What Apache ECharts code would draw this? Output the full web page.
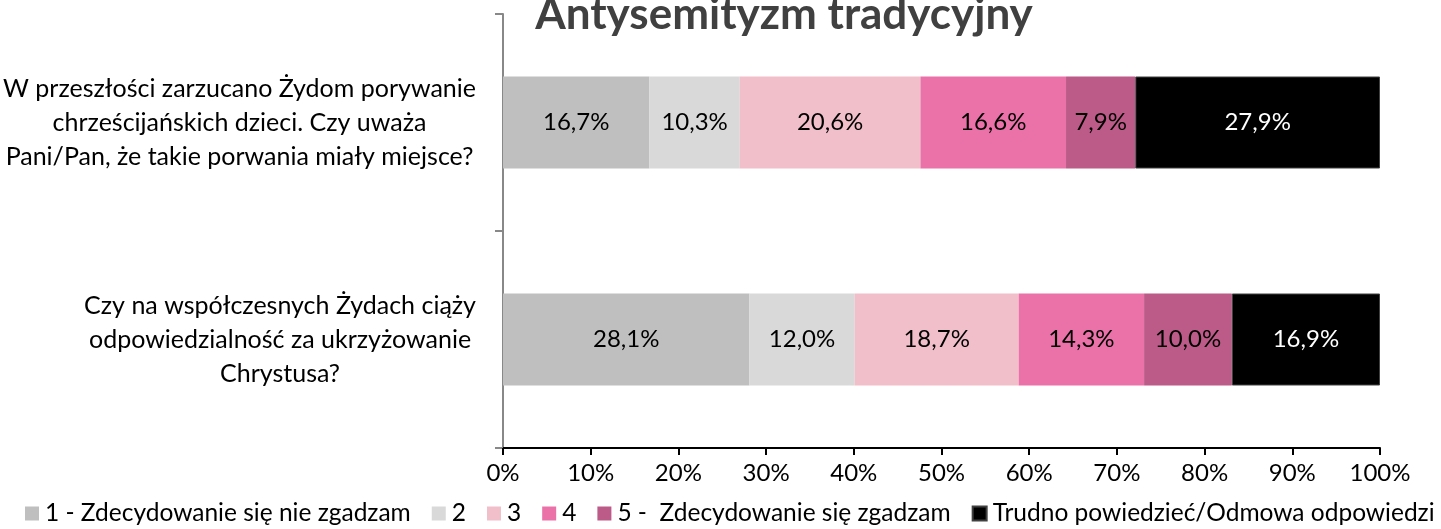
<!DOCTYPE html>
<html>
<head>
<meta charset="utf-8">
<script src="https://cdn.jsdelivr.net/npm/echarts@6/dist/echarts.min.js"></script>
<style>
html,body{margin:0;padding:0;background:#fff;}
#chart{width:1441px;height:529px;}
</style>
</head>
<body>
<div id="chart"></div>
<script>
const titleText = 'Antysemityzm tradycyjny';
const categories = [
  ['W przeszłości zarzucano Żydom porywanie', 'chrześcijańskich dzieci. Czy uważa', 'Pani/Pan, że takie porwania miały miejsce?'],
  ['Czy na współczesnych Żydach ciąży', 'odpowiedzialność za ukrzyżowanie', 'Chrystusa?']
];
const seriesNames = ['1 - Zdecydowanie się nie zgadzam', '2', '3', '4', '5 -  Zdecydowanie się zgadzam', 'Trudno powiedzieć/Odmowa odpowiedzi'];
const s1 = [16.7, 28.1];
const s2 = [10.3, 12.0];
const s3 = [20.6, 18.7];
const s4 = [16.6, 14.3];
const s5 = [7.9, 10.0];
const s6 = [27.9, 16.9];
const xTicks = [0, 10, 20, 30, 40, 50, 60, 70, 80, 90, 100];

const colors = ['#BFBFBF', '#D9D9D9', '#F0BFCA', '#EA72A8', '#BC5B88', '#000000'];
const labelColors = ['#000', '#000', '#000', '#000', '#000', '#fff'];
const FONT = 'Lato';
const allData = [s1, s2, s3, s4, s5, s6];

const chart = echarts.init(document.getElementById('chart'), null, {renderer: 'canvas'});
const catKeys = categories.map((c, i) => 'q' + i);

const option = {
  animation: false,
  backgroundColor: '#fff',
  title: {
    text: titleText,
    left: 779,
    top: -12,
    textAlign: 'center',
    textStyle: {fontFamily: FONT, fontSize: 44, fontWeight: 'bold', color: '#404040'}
  },
  grid: {left: 500, right: 61, top: 14, bottom: 81, containLabel: false},
  legend: {
    bottom: -2,
    left: 20,
    itemWidth: 14,
    itemHeight: 14,
    itemGap: 21,
    icon: 'rect',
    textStyle: {fontFamily: FONT, fontSize: 24.5, color: '#000', padding: [0, 0, 0, 1]},
    data: seriesNames
  },
  xAxis: {
    type: 'value',
    min: 0,
    max: 100,
    interval: 10,
    splitLine: {show: false},
    axisLine: {show: true, lineStyle: {color: '#000', width: 2}},
    axisTick: {show: true, length: 7, lineStyle: {color: '#000', width: 2}},
    axisLabel: {fontFamily: FONT, fontSize: 24, color: '#000', margin: 13,
      formatter: v => xTicks.includes(v) ? v + '%' : ''}
  },
  yAxis: {
    type: 'category',
    inverse: true,
    data: catKeys,
    axisLine: {show: true, lineStyle: {color: '#888', width: 2}},
    axisTick: {show: true, length: 8, lineStyle: {color: '#888', width: 2}},
    axisLabel: {
      margin: 27,
      align: 'right',
      formatter: (v) => {
        const idx = catKeys.indexOf(v);
        return categories[idx].map(l => '{c|' + l + '}').join('\n');
      },
      rich: {c: {align: 'center', fontFamily: FONT, fontSize: 25, lineHeight: 34, color: '#000'}}
    }
  },
  series: allData.map((d, i) => ({
    name: seriesNames[i],
    type: 'bar',
    stack: 'total',
    barWidth: 92,
    data: d,
    itemStyle: {color: colors[i], borderColor: i === 5 ? '#404040' : undefined, borderWidth: i === 5 ? 1 : 0},
    label: {
      show: true,
      position: 'inside',
      fontFamily: FONT,
      fontSize: 24,
      color: labelColors[i],
      formatter: p => p.value.toFixed(1).replace('.', ',') + '%'
    }
  }))
};
chart.setOption(option);
</script>
</body>
</html>
